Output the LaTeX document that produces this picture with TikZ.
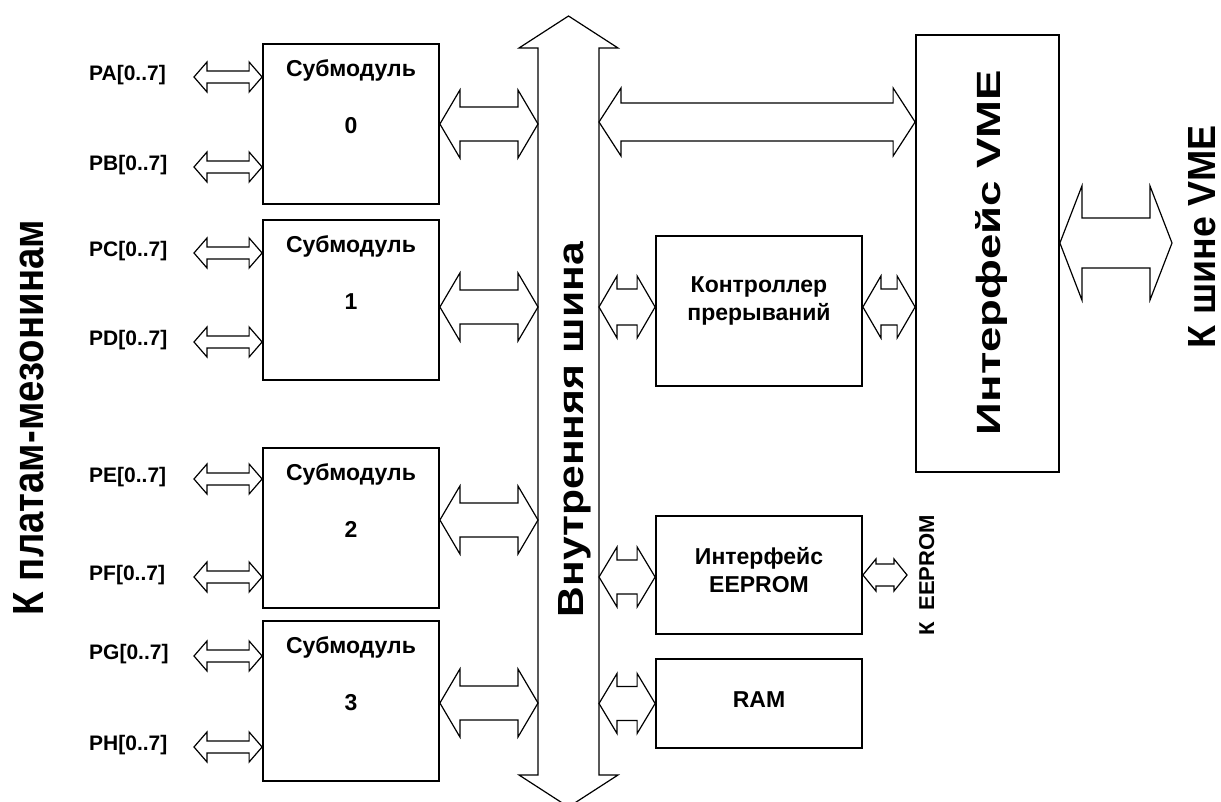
\documentclass[tikz,border=0pt]{standalone}
\usepackage{fontspec}
\setmainfont{Liberation Sans}
\usetikzlibrary{calc}

% hollow double arrow, horizontal: ends, head length, head half-width, shaft half-width
\newcommand{\hdarrow}[5]{%
  \draw[busarrow] let \p1=#1, \p2=#2 in
    (\x1,\y1) -- (\x1+#3,\y1+#4) -- (\x1+#3,\y1+#5) -- (\x2-#3,\y1+#5)
    -- (\x2-#3,\y1+#4) -- (\x2,\y1) -- (\x2-#3,\y1-#4) -- (\x2-#3,\y1-#5)
    -- (\x1+#3,\y1-#5) -- (\x1+#3,\y1-#4) -- cycle;}
% same, vertical (top tip, bottom tip)
\newcommand{\vdarrow}[5]{%
  \draw[busarrow] let \p1=#1, \p2=#2 in
    (\x1,\y1) -- (\x1+#4,\y1-#3) -- (\x1+#5,\y1-#3) -- (\x1+#5,\y2+#3)
    -- (\x1+#4,\y2+#3) -- (\x1,\y2) -- (\x1-#4,\y2+#3) -- (\x1-#5,\y2+#3)
    -- (\x1-#5,\y1-#3) -- (\x1-#4,\y1-#3) -- cycle;}

\begin{document}
\begin{tikzpicture}[x=1pt, y=-1pt,
    box/.style      ={draw, line width=1.8pt, inner sep=0pt},
    subbox/.style   ={box, minimum width=176pt, minimum height=160pt},
    unit/.style     ={box, minimum width=206pt},
    busarrow/.style ={draw, line width=1.2pt, fill=white},
    boxtext/.style  ={font=\fontsize{23}{28}\selectfont\bfseries, align=center, inner sep=0pt},
    portlab/.style  ={font=\fontsize{21}{24}\selectfont\bfseries, anchor=west, inner sep=0pt},
    sidetext/.style ={rotate=90, anchor=base, inner sep=0pt, font=\bfseries}
  ]
    \useasboundingbox (0,0) rectangle (1221,802);

    % --- internal bus ---
    \coordinate (bustop) at (568.5,16);
    \coordinate (busbot) at (568.5,807);
    \coordinate (busL) at (538,0);
    \coordinate (busR) at (599,0);
    \vdarrow{(bustop)}{(busbot)}{32pt}{49.5pt}{30.5pt}
    \node[sidetext] (busname) at (583,429.5)
      {\resizebox{375pt}{25pt}{Внутренняя шина}};

    % --- submodules ---
    \foreach \i/\ypos/\dy in {0/44/0,1/220/-7,2/448/8,3/621/-2} {
      \node[subbox] (sub\i) at (351,\ypos+80) {};
      \node[boxtext] (subname\i) at ([yshift=-27pt]sub\i.north) {Субмодуль};
      \node[boxtext] (subnum\i) at ([yshift=-82pt]sub\i.north) {\i};
      \coordinate (subout\i) at ([yshift=\dy pt]sub\i.east);
      \coordinate (busin\i) at (subout\i -| busL);
      \hdarrow{(subout\i)}{(busin\i)}{20pt}{34pt}{17pt}
    }

    % --- mezzanine ports ---
    \foreach \port/\ypos/\s in {A/77/0,B/167/0,C/253/1,D/342/1,E/479/2,F/577/2,G/656/3,H/747/3} {
      \coordinate (port\port) at (194,\ypos);
      \coordinate (pin\port) at (port\port -| sub\s.west);
      \node[portlab] (lab\port) at (89,\ypos-2) {P\port[0..7]};
      \hdarrow{(port\port)}{(pin\port)}{13pt}{15pt}{6pt}
    }
    \node[sidetext] (mezz) at (43,417.5)
      {\resizebox{395pt}{30pt}{К платам-мезонинам}};

    % --- right-hand units ---
    \node[box, minimum width=143pt, minimum height=437pt] (vme) at (987.5,253.5) {};
    \node[sidetext] (vmename) at (1000,252.5)
      {\resizebox{365pt}{25pt}{Интерфейс VME}};
    \node[unit, minimum height=150pt] (ctrl) at (759,311) {};
    \node[boxtext] (ctrlname) at ([yshift=10pt]ctrl.center) {Контроллер\\прерываний};
    \node[unit, minimum height=118pt] (eeprom) at (759,575) {};
    \node[boxtext] (eepromname) at ([yshift=5pt]eeprom.center) {Интерфейс\\EEPROM};
    \node[unit, minimum height=89pt] (ram) at (759,703.5) {};
    \node[boxtext] (ramname) at ([yshift=4pt]ram.center) {RAM};

    % --- links to the bus ---
    \coordinate (vmelink) at (599,122);
    \coordinate (vmein) at (vmelink -| vme.west);
    \coordinate (ctrlin) at ([yshift=4pt]ctrl.west);
    \coordinate (ctrlbus) at (ctrlin -| busR);
    \coordinate (ctrlout) at ([yshift=4pt]ctrl.east);
    \coordinate (vmeirq) at (ctrlout -| vme.west);
    \coordinate (eepin) at ([yshift=-2pt]eeprom.west);
    \coordinate (eepbus) at (eepin -| busR);
    \coordinate (ramin) at (ram.west);
    \coordinate (rambus) at (ramin -| busR);
    \hdarrow{(vmelink)}{(vmein)}{22pt}{34pt}{19pt}
    \hdarrow{(ctrlbus)}{(ctrlin)}{18pt}{31pt}{18pt}
    \hdarrow{(ctrlout)}{(vmeirq)}{18pt}{31pt}{18pt}
    \hdarrow{(eepbus)}{(eepin)}{18pt}{30pt}{17pt}
    \hdarrow{(rambus)}{(ramin)}{18pt}{30pt}{17pt}

    % --- external links ---
    \coordinate (eepext) at (907,575);
    \coordinate (eepout) at (eeprom.east);
    \hdarrow{(eepout)}{(eepext)}{13pt}{16pt}{11pt}
    \node[sidetext] (eepname) at (934,575)
      {\resizebox{120pt}{15pt}{К\hspace{0.5em}EEPROM}};
    \coordinate (vmeext) at (1172,243);
    \coordinate (vmeout) at (vmeext -| vme.east);
    \hdarrow{(vmeout)}{(vmeext)}{22pt}{57pt}{25pt}
    \node[sidetext] (vmebusname) at (1215,236.5)
      {\resizebox{223pt}{27pt}{К шине VME}};
\end{tikzpicture}
\end{document}
